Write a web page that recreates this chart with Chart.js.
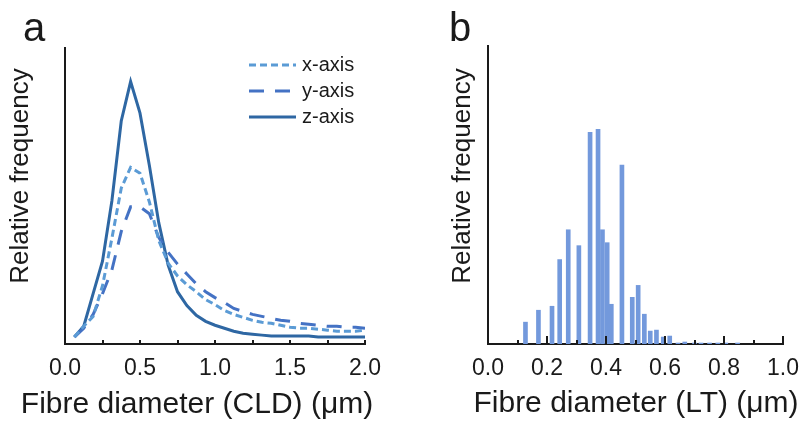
<!DOCTYPE html>
<html>
<head>
<meta charset="utf-8">
<script src="https://cdn.jsdelivr.net/npm/chart.js@4.4.1/dist/chart.umd.min.js"></script>
<style>
  body { margin: 0; background: #fff; }
  #wrap { position: relative; width: 810px; height: 428px; }
  .panel { position: absolute; top: 0; width: 405px; height: 428px; }
</style>
</head>
<body>
<div id="wrap">
  <div class="panel" style="left:0"><canvas id="cld" width="405" height="428"></canvas></div>
  <div class="panel" style="left:405px"><canvas id="lt" width="405" height="428"></canvas></div>
</div>
<script>
// chord length distribution, bin centres in um
const cldBins = [0.0625, 0.125, 0.1875, 0.25, 0.3125, 0.375, 0.4375, 0.5,
  0.5625, 0.625, 0.6875, 0.75, 0.8125, 0.875, 0.9375, 1.0,
  1.0625, 1.125, 1.1875, 1.25, 1.3125, 1.375, 1.4375, 1.5,
  1.5625, 1.625, 1.6875, 1.75, 1.8125, 1.875, 1.9375, 2.0];
const cldX = [0.007, 0.018, 0.028, 0.059, 0.107, 0.158, 0.179, 0.173,
  0.144, 0.105, 0.082, 0.069, 0.060, 0.053, 0.045, 0.040,
  0.034, 0.030, 0.027, 0.024, 0.022, 0.021, 0.019, 0.017,
  0.016, 0.016, 0.015, 0.014, 0.013, 0.013, 0.013, 0.014];
const cldY = [0.007, 0.016, 0.030, 0.051, 0.075, 0.114, 0.139, 0.139,
  0.132, 0.108, 0.093, 0.081, 0.071, 0.061, 0.053, 0.047,
  0.042, 0.036, 0.033, 0.030, 0.028, 0.026, 0.024, 0.023,
  0.021, 0.020, 0.019, 0.018, 0.018, 0.017, 0.017, 0.016];
const cldZ = [0.007, 0.018, 0.051, 0.084, 0.145, 0.226, 0.266, 0.234,
  0.181, 0.123, 0.080, 0.053, 0.039, 0.029, 0.023, 0.019,
  0.016, 0.013, 0.011, 0.010, 0.009, 0.008, 0.008, 0.008,
  0.008, 0.008, 0.007, 0.007, 0.007, 0.007, 0.007, 0.007];
const cldLabels = ['x-axis', 'y-axis', 'z-axis'];

// local thickness histogram
const ltDiam = [0.127, 0.171, 0.217, 0.243, 0.272, 0.308, 0.346, 0.373, 0.388,
  0.404, 0.418, 0.454, 0.489, 0.509, 0.530, 0.550, 0.571, 0.594, 0.616,
  0.644, 0.667, 0.700, 0.722, 0.751, 0.779, 0.806, 0.846];
const ltFreq = [0.022, 0.034, 0.038, 0.085, 0.115, 0.099, 0.213, 0.216, 0.115,
  0.102, 0.040, 0.180, 0.047, 0.059, 0.030, 0.013, 0.014, 0.007, 0.008,
  0.001, 0.002, 0.001, 0.001, 0.001, 0.001, 0.001, 0.001];

const cldTicks = 0.5, cldMinor = 0.25;
const ltTicks = 0.2, ltMinor = 0.1;

const FONT = '"Liberation Sans", Arial, sans-serif';
const INK = '#1a1a1a';

const toXY = (xs, ys) => xs.map((x, i) => ({ x: x, y: ys[i] }));

// inward tick marks, panel letter and axis titles
const axisDecor = {
  id: 'axisDecor',
  afterDraw(chart, args, o) {
    const ctx = chart.ctx;
    const sx = chart.scales.x;
    const bottom = chart.chartArea.bottom;
    ctx.save();
    ctx.strokeStyle = INK;
    ctx.lineWidth = 2;
    const n = Math.round((sx.max - sx.min) / o.minorStep);
    for (let i = 1; i <= n; i++) {
      const px = Math.round(sx.getPixelForValue(sx.min + i * o.minorStep));
      const len = i % o.majorEvery === 0 ? o.majorLen : o.minorLen;
      ctx.beginPath();
      ctx.moveTo(px, bottom);
      ctx.lineTo(px, bottom - len);
      ctx.stroke();
    }
    ctx.fillStyle = INK;
    ctx.textAlign = 'left';
    ctx.textBaseline = 'alphabetic';
    ctx.font = '40px ' + FONT;
    ctx.fillText(o.letter, o.letterX, o.letterY);
    ctx.textAlign = 'center';
    ctx.font = '30px ' + FONT;
    ctx.fillText(o.xTitle, o.xTitleX, o.xTitleY);
    ctx.translate(o.yTitleX, o.yTitleY);
    ctx.rotate(-Math.PI / 2);
    ctx.textBaseline = 'middle';
    ctx.font = '26px ' + FONT;
    ctx.fillText(o.yTitle, 0, 0);
    ctx.restore();
  }
};

// small line key drawn inside the plot
const lineKey = {
  id: 'lineKey',
  afterDraw(chart, args, o) {
    const ctx = chart.ctx;
    chart.data.datasets.forEach((ds, i) => {
      const y = o.y + i * o.rowGap;
      ctx.save();
      ctx.strokeStyle = ds.borderColor;
      ctx.lineWidth = ds.borderWidth;
      ctx.setLineDash(ds.borderDash || []);
      ctx.beginPath();
      ctx.moveTo(o.x, y);
      ctx.lineTo(o.x + o.len, y);
      ctx.stroke();
      ctx.setLineDash([]);
      ctx.fillStyle = INK;
      ctx.font = '20px ' + FONT;
      ctx.textBaseline = 'middle';
      ctx.fillText(ds.label, o.x + o.len + o.gap, y);
      ctx.restore();
    });
  }
};

const axisBorder = { display: true, color: INK, width: 2 };
const tickFont = { family: FONT, size: 23 };

new Chart(document.getElementById('cld'), {
  type: 'line',
  data: {
    datasets: [
      { label: cldLabels[0], data: toXY(cldBins, cldX), borderColor: '#5b9bd5', borderWidth: 3, borderDash: [7, 4] },
      { label: cldLabels[1], data: toXY(cldBins, cldY), borderColor: '#4472c4', borderWidth: 3, borderDash: [15, 11] },
      { label: cldLabels[2], data: toXY(cldBins, cldZ), borderColor: '#2e67a3', borderWidth: 3 }
    ]
  },
  options: {
    responsive: false,
    animation: false,
    layout: { padding: { left: 65, top: 48, right: 40, bottom: 34.4 } },
    elements: { point: { radius: 0 }, line: { tension: 0 } },
    scales: {
      x: {
        type: 'linear', min: 0, max: 2,
        grid: { display: false, drawTicks: false },
        border: axisBorder,
        ticks: { stepSize: cldTicks, callback: v => v.toFixed(1), font: tickFont, color: INK, padding: 11, maxRotation: 0, autoSkip: false }
      },
      y: {
        min: 0, max: 0.3,
        grid: { display: false, drawTicks: false },
        border: axisBorder,
        ticks: { display: false }
      }
    },
    plugins: {
      legend: { display: false },
      tooltip: { enabled: false },
      axisDecor: {
        minorStep: cldMinor, majorEvery: 2, minorLen: 4, majorLen: 4,
        letter: 'a', letterX: 23, letterY: 41,
        xTitle: 'Fibre diameter (CLD) (μm)', xTitleX: 197, xTitleY: 413,
        yTitle: 'Relative frequency', yTitleX: 21, yTitleY: 176
      },
      lineKey: { x: 249, y: 65, rowGap: 26, len: 47, gap: 6 }
    }
  },
  plugins: [axisDecor, lineKey]
});

new Chart(document.getElementById('lt'), {
  type: 'bar',
  data: {
    datasets: [
      { label: 'LT', data: toXY(ltDiam, ltFreq), backgroundColor: '#7399dc', barThickness: 4 }
    ]
  },
  options: {
    responsive: false,
    animation: false,
    layout: { padding: { left: 83, top: 46, right: 24, bottom: 34.4 } },
    scales: {
      x: {
        type: 'linear', min: 0, max: 1, offset: false,
        grid: { display: false, drawTicks: false, offset: false },
        border: axisBorder,
        ticks: { stepSize: ltTicks, callback: v => v.toFixed(1), font: tickFont, color: INK, padding: 11, maxRotation: 0, autoSkip: false }
      },
      y: {
        min: 0, max: 0.3,
        grid: { display: false, drawTicks: false },
        border: axisBorder,
        ticks: { display: false }
      }
    },
    plugins: {
      legend: { display: false },
      tooltip: { enabled: false },
      axisDecor: {
        minorStep: ltMinor, majorEvery: 2, minorLen: 4, majorLen: 8,
        letter: 'b', letterX: 44, letterY: 41,
        xTitle: 'Fibre diameter (LT) (μm)', xTitleX: 231, xTitleY: 412,
        yTitle: 'Relative frequency', yTitleX: 58, yTitleY: 176
      }
    }
  },
  plugins: [axisDecor]
});
</script>
</body>
</html>
